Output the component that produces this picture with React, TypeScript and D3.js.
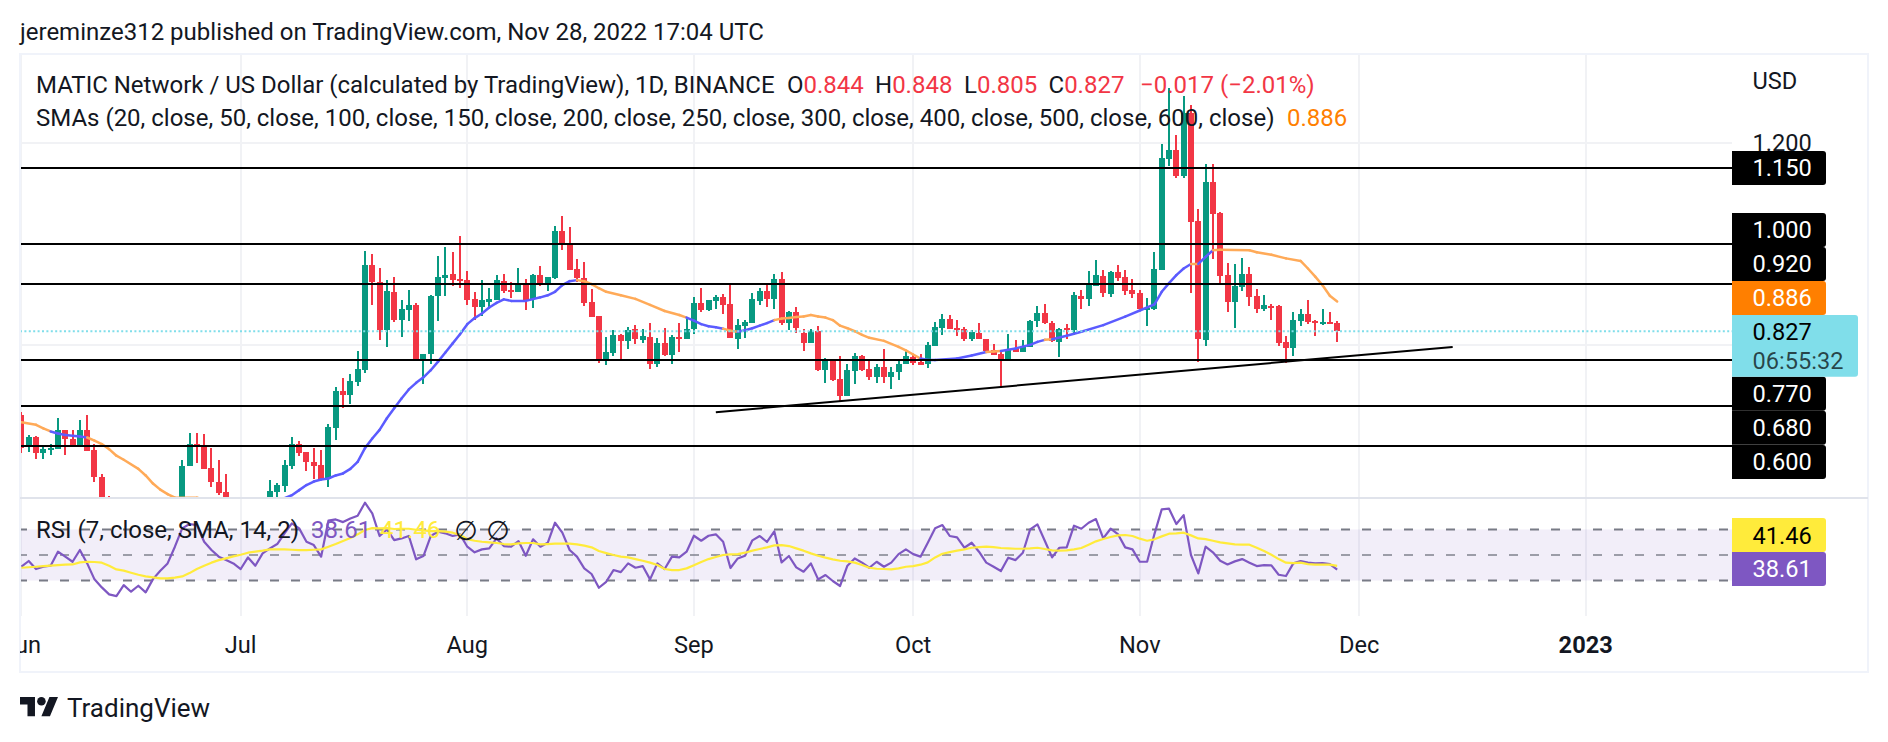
import React, { useEffect, useRef } from "react";
import * as d3 from "d3";

// daily candles, index 0 = Jun 1 2022 (parts under the pane bottom are clipped, rough values there)
const opens = [
  0.661, 0.598, 0.617, 0.587, 0.594, 0.595, 0.632, 0.615, 0.602, 0.632,
  0.592, 0.538, 0.47, 0.44, 0.4, 0.42, 0.46, 0.39, 0.39, 0.33,
  0.38, 0.39, 0.47, 0.561, 0.605, 0.6, 0.557, 0.53, 0.509, 0.48,
  0.45, 0.46, 0.47, 0.46, 0.48, 0.51, 0.521, 0.561, 0.604, 0.588,
  0.569, 0.563, 0.534, 0.636, 0.708, 0.701, 0.727, 0.75, 0.958, 0.924,
  0.829, 0.905, 0.849, 0.869, 0.879, 0.768, 0.782, 0.897, 0.933, 0.94,
  0.93, 0.928, 0.891, 0.875, 0.885, 0.889, 0.926, 0.909, 0.905, 0.922,
  0.89, 0.938, 0.92, 0.932, 1.025, 1.001, 0.95, 0.933, 0.885, 0.857,
  0.768, 0.784, 0.82, 0.808, 0.831, 0.81, 0.816, 0.762, 0.804, 0.78,
  0.816, 0.812, 0.831, 0.883, 0.869, 0.887, 0.895, 0.881, 0.812, 0.837,
  0.843, 0.887, 0.907, 0.891, 0.93, 0.843, 0.865, 0.824, 0.804, 0.827,
  0.75, 0.768, 0.733, 0.699, 0.748, 0.778, 0.752, 0.737, 0.756, 0.737,
  0.746, 0.762, 0.776, 0.766, 0.762, 0.798, 0.833, 0.851, 0.833, 0.831,
  0.812, 0.823, 0.812, 0.79, 0.782, 0.772, 0.794, 0.786, 0.796, 0.847,
  0.863, 0.843, 0.806, 0.833, 0.829, 0.897, 0.891, 0.916, 0.936, 0.901,
  0.944, 0.934, 0.908, 0.903, 0.871, 0.871, 0.948, 1.167, 1.185, 1.134,
  1.258, 1.045, 0.81, 1.122, 1.06, 0.938, 0.885, 0.914, 0.94, 0.897,
  0.87, 0.877, 0.876, 0.806, 0.793, 0.847, 0.861, 0.847, 0.841, 0.845,
  0.844,
];
const closes = [
  0.596, 0.617, 0.587, 0.594, 0.597, 0.632, 0.615, 0.602, 0.632, 0.591,
  0.538, 0.47, 0.44, 0.4, 0.42, 0.46, 0.39, 0.39, 0.33, 0.38,
  0.39, 0.47, 0.561, 0.605, 0.599, 0.555, 0.529, 0.507, 0.48, 0.45,
  0.46, 0.47, 0.46, 0.48, 0.511, 0.523, 0.563, 0.604, 0.587, 0.569,
  0.561, 0.534, 0.638, 0.708, 0.701, 0.729, 0.752, 0.958, 0.925, 0.829,
  0.906, 0.849, 0.871, 0.879, 0.768, 0.783, 0.897, 0.934, 0.938, 0.928,
  0.926, 0.889, 0.875, 0.889, 0.891, 0.928, 0.907, 0.905, 0.922, 0.889,
  0.938, 0.92, 0.934, 1.025, 0.999, 0.949, 0.932, 0.883, 0.856, 0.768,
  0.786, 0.82, 0.808, 0.83, 0.812, 0.818, 0.762, 0.804, 0.78, 0.816,
  0.812, 0.831, 0.883, 0.869, 0.889, 0.895, 0.879, 0.814, 0.839, 0.845,
  0.891, 0.907, 0.891, 0.93, 0.843, 0.865, 0.833, 0.804, 0.827, 0.75,
  0.768, 0.731, 0.699, 0.75, 0.778, 0.75, 0.737, 0.756, 0.737, 0.746,
  0.762, 0.778, 0.764, 0.76, 0.8, 0.835, 0.851, 0.831, 0.829, 0.812,
  0.825, 0.812, 0.788, 0.78, 0.772, 0.792, 0.786, 0.798, 0.847, 0.863,
  0.843, 0.808, 0.831, 0.829, 0.899, 0.891, 0.918, 0.938, 0.902, 0.944,
  0.932, 0.907, 0.901, 0.871, 0.873, 0.95, 1.169, 1.185, 1.134, 1.258,
  1.042, 0.812, 1.122, 1.059, 0.936, 0.885, 0.916, 0.94, 0.895, 0.871,
  0.879, 0.874, 0.803, 0.793, 0.849, 0.861, 0.845, 0.843, 0.845, 0.841,
  0.827,
];
const highs = [
  0.668, 0.622, 0.62, 0.6, 0.604, 0.655, 0.632, 0.632, 0.652, 0.661,
  0.604, 0.545, 0.501, 0.45, 0.44, 0.47, 0.47, 0.41, 0.4, 0.39,
  0.42, 0.49, 0.573, 0.625, 0.625, 0.624, 0.596, 0.573, 0.544, 0.49,
  0.49, 0.49, 0.485, 0.49, 0.533, 0.528, 0.573, 0.617, 0.61, 0.588,
  0.596, 0.592, 0.644, 0.716, 0.734, 0.742, 0.788, 0.986, 0.98, 0.952,
  0.928, 0.934, 0.889, 0.909, 0.883, 0.783, 0.899, 0.976, 0.993, 0.984,
  1.015, 0.946, 0.905, 0.928, 0.912, 0.938, 0.94, 0.924, 0.951, 0.93,
  0.94, 0.956, 0.934, 1.035, 1.055, 1.033, 0.97, 0.964, 0.91, 0.857,
  0.816, 0.829, 0.822, 0.836, 0.839, 0.831, 0.843, 0.814, 0.833, 0.82,
  0.843, 0.854, 0.895, 0.912, 0.889, 0.899, 0.901, 0.922, 0.851, 0.849,
  0.903, 0.912, 0.918, 0.94, 0.944, 0.867, 0.875, 0.831, 0.831, 0.837,
  0.774, 0.768, 0.778, 0.762, 0.784, 0.78, 0.768, 0.762, 0.792, 0.756,
  0.768, 0.79, 0.78, 0.782, 0.806, 0.845, 0.861, 0.859, 0.849, 0.835,
  0.829, 0.843, 0.812, 0.802, 0.788, 0.822, 0.81, 0.81, 0.849, 0.877,
  0.881, 0.847, 0.833, 0.841, 0.905, 0.908, 0.946, 0.968, 0.948, 0.946,
  0.958, 0.948, 0.93, 0.908, 0.893, 0.984, 1.198, 1.307, 1.215, 1.292,
  1.274, 1.069, 1.157, 1.157, 1.062, 0.961, 0.96, 0.972, 0.954, 0.91,
  0.899, 0.881, 0.879, 0.818, 0.865, 0.871, 0.889, 0.849, 0.871, 0.865,
  0.848,
];
const lows = [
  0.587, 0.589, 0.575, 0.575, 0.582, 0.594, 0.582, 0.6, 0.6, 0.591,
  0.53, 0.45, 0.43, 0.37, 0.38, 0.37, 0.38, 0.37, 0.32, 0.32,
  0.37, 0.38, 0.46, 0.561, 0.567, 0.555, 0.52, 0.503, 0.47, 0.43,
  0.43, 0.45, 0.44, 0.45, 0.47, 0.498, 0.51, 0.555, 0.58, 0.551,
  0.534, 0.534, 0.52, 0.612, 0.676, 0.683, 0.719, 0.745, 0.879, 0.81,
  0.796, 0.846, 0.816, 0.847, 0.768, 0.723, 0.762, 0.847, 0.897, 0.916,
  0.912, 0.879, 0.849, 0.857, 0.874, 0.889, 0.903, 0.893, 0.905, 0.869,
  0.872, 0.917, 0.907, 0.93, 0.988, 0.948, 0.925, 0.877, 0.856, 0.764,
  0.76, 0.779, 0.768, 0.792, 0.802, 0.804, 0.752, 0.757, 0.778, 0.762,
  0.785, 0.812, 0.822, 0.865, 0.867, 0.871, 0.861, 0.814, 0.792, 0.814,
  0.843, 0.879, 0.875, 0.871, 0.839, 0.829, 0.823, 0.788, 0.804, 0.748,
  0.725, 0.729, 0.689, 0.699, 0.723, 0.748, 0.731, 0.725, 0.725, 0.713,
  0.731, 0.762, 0.76, 0.76, 0.754, 0.798, 0.82, 0.831, 0.818, 0.808,
  0.808, 0.812, 0.786, 0.78, 0.715, 0.772, 0.786, 0.786, 0.796, 0.835,
  0.841, 0.806, 0.776, 0.812, 0.82, 0.871, 0.876, 0.916, 0.895, 0.895,
  0.926, 0.899, 0.893, 0.871, 0.837, 0.869, 0.948, 1.154, 1.13, 1.13,
  0.903, 0.767, 0.798, 0.97, 0.922, 0.865, 0.833, 0.906, 0.877, 0.863,
  0.867, 0.849, 0.798, 0.764, 0.778, 0.837, 0.841, 0.818, 0.839, 0.841,
  0.805,
];

// SMA 20, read at its visible corners
const smaDays = [
  0, 2, 3, 4, 5, 6, 8, 9, 10, 11, 12, 13, 14, 16, 17, 18, 19, 20, 21, 24, 28, 32, 35, 36, 37, 38, 39, 40, 41, 42,
  43, 44, 45, 46, 47, 48, 49, 50, 51, 52, 53, 54, 55, 56, 57, 58, 59, 60, 61, 62, 63, 64, 65, 66, 67, 69, 71, 72, 73, 74,
  75, 76, 77, 78, 79, 80, 82, 84, 86, 88, 90, 91, 92, 93, 94, 95, 96, 97, 98, 99, 100, 101, 102, 103, 104, 105, 106, 107, 108, 109,
  110, 111, 112, 113, 114, 115, 116, 118, 120, 121, 122, 123, 124, 125, 128, 130, 132, 133, 134, 136, 138, 139, 140, 141, 143, 145, 148, 151, 153, 155,
  156, 157, 158, 159, 160, 161, 162, 163, 164, 168, 169, 171, 173, 175, 176, 177, 178, 179, 180,
];
const smaValues = [
  0.647, 0.642, 0.635, 0.629, 0.625, 0.622, 0.619, 0.617, 0.611, 0.604, 0.594, 0.581, 0.573, 0.555, 0.542, 0.526, 0.514, 0.505, 0.498, 0.498, 0.485, 0.47, 0.482, 0.497, 0.503, 0.513, 0.523, 0.53, 0.534, 0.536,
  0.542, 0.546, 0.555, 0.569, 0.596, 0.615, 0.632, 0.655, 0.675, 0.694, 0.712, 0.725, 0.736, 0.75, 0.767, 0.785, 0.803, 0.821, 0.841, 0.853, 0.862, 0.874, 0.883, 0.89, 0.887, 0.887, 0.894, 0.898, 0.905, 0.918,
  0.926, 0.928, 0.926, 0.92, 0.912, 0.905, 0.898, 0.891, 0.879, 0.867, 0.859, 0.854, 0.848, 0.841, 0.837, 0.835, 0.832, 0.828, 0.826, 0.829, 0.833, 0.838, 0.843, 0.849, 0.852, 0.853, 0.855, 0.856, 0.859, 0.856,
  0.854, 0.849, 0.838, 0.833, 0.827, 0.82, 0.814, 0.808, 0.796, 0.789, 0.781, 0.773, 0.77, 0.77, 0.773, 0.779, 0.786, 0.787, 0.788, 0.793, 0.8, 0.806, 0.81, 0.811, 0.818, 0.826, 0.839, 0.856, 0.868, 0.88,
  0.905, 0.922, 0.938, 0.951, 0.96, 0.96, 0.974, 0.987, 0.988, 0.987, 0.983, 0.978, 0.971, 0.966, 0.951, 0.935, 0.918, 0.897, 0.886,
];
// day ranges where the SMA is drawn blue instead of orange
const smaBlueRanges = [[4, 9], [22, 24], [35, 76], [91, 96], [98, 103], [123, 132], [134, 140], [141, 160], [161, 163]];

const rsiValues = [
  40.8, 45.3, 39.0, 40.8, 41.6, 52.6, 48.7, 44.7, 53.9, 43.4,
  30.9, 24.6, 19.1, 17.8, 26.4, 21.2, 25.9, 20.7, 31.1, 37.7,
  43.4, 56.5, 70.9, 74.3, 73.5, 60.4, 53.9, 48.7, 46.0, 43.4,
  39.0, 48.1, 41.6, 51.3, 55.2, 58.6, 67.0, 74.8, 70.9, 60.4,
  57.8, 48.7, 76.9, 77.9, 75.8, 78.7, 80.8, 91.0, 82.6, 64.9,
  70.1, 61.7, 63.0, 64.9, 46.6, 49.2, 64.9, 68.3, 67.0, 64.9,
  66.2, 56.5, 52.1, 54.4, 55.2, 63.0, 57.0, 56.5, 60.9, 49.4,
  62.3, 56.5, 59.6, 75.3, 67.5, 53.9, 48.7, 39.5, 35.1, 24.3,
  29.0, 38.2, 36.6, 43.4, 40.0, 41.3, 30.9, 43.4, 39.0, 48.7,
  48.1, 52.6, 65.1, 61.2, 65.1, 66.2, 60.4, 39.8, 47.3, 49.4,
  61.5, 64.9, 60.2, 68.5, 44.2, 49.2, 40.3, 36.9, 43.4, 30.9,
  34.3, 29.6, 25.7, 41.6, 47.3, 44.0, 40.0, 44.7, 40.8, 44.0,
  50.7, 54.4, 50.7, 48.7, 59.6, 70.9, 73.5, 64.9, 63.8, 55.7,
  59.6, 52.6, 44.0, 40.8, 37.4, 47.9, 46.0, 51.8, 70.1, 74.0,
  61.2, 48.1, 55.7, 56.0, 73.0, 70.6, 75.3, 78.2, 63.0, 70.6,
  66.4, 56.0, 54.4, 44.7, 44.7, 66.4, 85.8, 86.3, 74.3, 81.3,
  50.0, 35.6, 56.5, 52.1, 45.5, 42.6, 45.0, 46.8, 44.0, 41.3,
  42.1, 41.9, 34.5, 33.5, 43.4, 45.3, 44.0, 43.4, 43.7, 42.9,
  38.61,
];
const rsiSmaValues = [
  40.0, 40.4, 40.8, 41.2, 41.6, 42.0, 42.4, 42.6, 44.2, 44.7,
  44.5, 44.0, 41.6, 38.7, 37.7, 36.1, 34.5, 33.2, 32.5, 31.7,
  31.7, 32.2, 33.2, 35.8, 39.0, 41.6, 44.0, 46.0, 47.4, 48.9,
  50.2, 51.8, 52.6, 53.4, 54.4, 54.4, 54.4, 54.1, 53.9, 53.9,
  54.1, 54.4, 56.5, 58.6, 60.9, 63.3, 66.2, 69.6, 71.1, 70.9,
  71.1, 70.4, 70.6, 70.6, 69.8, 69.3, 68.8, 68.8, 68.3, 67.5,
  65.7, 62.5, 61.2, 60.4, 59.9, 59.4, 58.6, 58.3, 59.1, 59.4,
  59.4, 58.3, 58.6, 58.9, 58.9, 58.9, 58.3, 57.3, 56.0, 53.1,
  51.5, 50.0, 48.7, 48.1, 46.8, 45.5, 44.0, 42.1, 39.0, 38.2,
  38.2, 39.5, 41.9, 44.5, 46.8, 48.4, 50.0, 50.5, 50.7, 51.8,
  53.4, 54.7, 56.0, 57.5, 57.8, 57.0, 55.2, 53.4, 51.3, 49.4,
  47.9, 46.6, 45.5, 45.0, 44.0, 42.1, 40.0, 39.2, 39.0, 38.7,
  39.5, 40.8, 41.3, 42.4, 44.2, 48.1, 51.0, 52.3, 53.4, 54.4,
  55.7, 56.2, 56.5, 56.2, 55.5, 55.2, 54.9, 54.9, 55.2, 55.7,
  54.7, 53.6, 53.4, 53.6, 54.4, 55.5, 58.1, 60.7, 62.5, 64.1,
  65.4, 65.7, 64.9, 62.8, 61.2, 62.3, 64.6, 66.7, 67.0, 67.5,
  65.4, 63.0, 62.5, 61.2, 59.9, 59.1, 58.3, 58.1, 58.1, 55.7,
  53.1, 50.2, 46.8, 44.0, 43.7, 44.0, 42.9, 42.4, 42.4, 42.4,
  41.46,
];

const levelPrices = [1.15, 1.0, 0.92, 0.77, 0.68, 0.6];
const levelLabels = ["1.150", "1.000", "0.920", "0.770", "0.680", "0.600"];
const gridPrices = [1.2, 0.8];
const rsiBands = [70, 50, 30];
const trendDays = [95, 195.8];
const trendPrices = [0.667, 0.796];
const monthDays = [0, 30, 61, 92, 122, 153, 183, 214];
const monthLabels = ["Jun", "Jul", "Aug", "Sep", "Oct", "Nov", "Dec", "2023"];

const INK = "#131722";
const UP = "#089981";
const DOWN = "#f23645";
const FONT = "Roboto, sans-serif";
const LEGEND_SIZE = 24;
const LABEL_SIZE = 23.6;

const App: React.FC = () => {
  const svgRef = useRef<SVGSVGElement | null>(null);

  useEffect(() => {
    if (!svgRef.current) return;
    const svg = d3.select(svgRef.current);
    svg.selectAll("*").remove();

    const left = 20, right = 1868, axisLeft = 1732, top = 54, paneBottom = 498, rsiBottom = 616, bottom = 672;

    const x = d3.scaleLinear().domain([0, 214]).range([21.4, 1585.7]);
    const y = d3.scaleLinear().domain([1.2, 0.6]).range([142.5, 446.1]);
    const yRsi = d3.scaleLinear().domain([70, 30]).range([529.5, 580.5]);

    const defs = svg.append("defs");
    defs.append("clipPath").attr("id", "main-clip")
      .append("rect").attr("x", left).attr("y", top).attr("width", axisLeft - left).attr("height", paneBottom - top);
    defs.append("clipPath").attr("id", "rsi-clip")
      .append("rect").attr("x", left).attr("y", paneBottom).attr("width", axisLeft - left).attr("height", rsiBottom - paneBottom);
    defs.append("clipPath").attr("id", "time-clip")
      .append("rect").attr("x", left).attr("y", rsiBottom).attr("width", right - left).attr("height", bottom - rsiBottom);

    svg.append("rect").attr("width", 1888).attr("height", 742).attr("fill", "#fff");

    // grid
    const grid = svg.append("g").attr("stroke", "#f1f2f5").attr("stroke-width", 2).attr("shape-rendering", "crispEdges");
    monthDays.forEach((d) => {
      grid.append("line").attr("x1", x(d)).attr("x2", x(d)).attr("y1", top).attr("y2", rsiBottom);
    });
    gridPrices.forEach((p) => {
      grid.append("line").attr("x1", left).attr("x2", axisLeft).attr("y1", y(p)).attr("y2", y(p));
    });

    // main pane
    const main = svg.append("g").attr("clip-path", "url(#main-clip)");

    opens.forEach((o, i) => {
      const c = closes[i];
      const color = c >= o ? UP : DOWN;
      main.append("line")
        .attr("x1", x(i)).attr("x2", x(i))
        .attr("y1", y(highs[i])).attr("y2", y(lows[i]))
        .attr("stroke", color).attr("stroke-width", 2)
        .attr("shape-rendering", "crispEdges");
      const bodyTop = y(Math.max(o, c));
      main.append("rect")
        .attr("x", x(i) - 3).attr("y", bodyTop)
        .attr("width", 6).attr("height", Math.max(2, y(Math.min(o, c)) - bodyTop))
        .attr("fill", color)
        .attr("shape-rendering", "crispEdges");
    });

    smaDays.slice(1).forEach((d, k) => {
      const from = smaDays[k];
      const blue = smaBlueRanges.some(([a, b]) => from >= a && from < b);
      main.append("line")
        .attr("x1", x(from)).attr("y1", y(smaValues[k]))
        .attr("x2", x(d)).attr("y2", y(smaValues[k + 1]))
        .attr("stroke", blue ? "#5b5bff" : "#ffaa58")
        .attr("stroke-width", 2.5)
        .attr("stroke-linecap", "round");
    });

    main.append("line")
      .attr("x1", left).attr("x2", axisLeft)
      .attr("y1", y(closes[closes.length - 1])).attr("y2", y(closes[closes.length - 1]))
      .attr("stroke", "#80deea").attr("stroke-width", 2).attr("stroke-dasharray", "2 2.4");

    levelPrices.forEach((p) => {
      main.append("line")
        .attr("x1", left).attr("x2", axisLeft).attr("y1", y(p)).attr("y2", y(p))
        .attr("stroke", "#000").attr("stroke-width", 2)
        .attr("shape-rendering", "crispEdges");
    });
    main.append("line")
      .attr("x1", x(trendDays[0])).attr("y1", y(trendPrices[0]))
      .attr("x2", x(trendDays[1])).attr("y2", y(trendPrices[1]))
      .attr("stroke", "#000").attr("stroke-width", 2);

    // rsi pane
    const rsi = svg.append("g").attr("clip-path", "url(#rsi-clip)");
    rsi.append("rect")
      .attr("x", left).attr("width", axisLeft - left)
      .attr("y", yRsi(70)).attr("height", yRsi(30) - yRsi(70))
      .attr("fill", "#7e57c2").attr("fill-opacity", 0.1);
    rsiBands.forEach((v, i) => {
      rsi.append("line")
        .attr("x1", left).attr("x2", axisLeft).attr("y1", yRsi(v)).attr("y2", yRsi(v))
        .attr("stroke", "#787b86").attr("stroke-width", 2)
        .attr("stroke-opacity", i === 1 ? 0.7 : 1)
        .attr("stroke-dasharray", "9 12").attr("stroke-dashoffset", 2);
    });
    const rsiLine = d3.line<number>().x((_, i) => x(i)).y((v) => yRsi(v));
    rsi.append("path").attr("d", rsiLine(rsiValues)).attr("fill", "none")
      .attr("stroke", "#7e57c2").attr("stroke-width", 2.2).attr("stroke-linejoin", "round");
    rsi.append("path").attr("d", rsiLine(rsiSmaValues)).attr("fill", "none")
      .attr("stroke", "#ffeb3b").attr("stroke-width", 2.2).attr("stroke-linejoin", "round");

    // frame
    const frame = svg.append("g").attr("fill", "none");
    frame.append("rect").attr("x", left).attr("y", top).attr("width", right - left).attr("height", bottom - top)
      .attr("stroke", "#f0f3fa").attr("stroke-width", 2);
    frame.append("line").attr("x1", left).attr("x2", right).attr("y1", paneBottom).attr("y2", paneBottom)
      .attr("stroke", "#e0e3eb").attr("stroke-width", 2);

    // all text helper
    const addText = (px: number, py: number, text: string, fill = INK, size = LEGEND_SIZE, parent: any = svg) =>
      parent.append("text")
        .attr("x", px).attr("y", py)
        .attr("dominant-baseline", "central")
        .attr("font-family", FONT).attr("font-size", size)
        .attr("fill", fill)
        .text(text);

    // time axis
    const timeAxis = svg.append("g").attr("clip-path", "url(#time-clip)");
    monthDays.forEach((d, i) => {
      addText(x(d), 645, monthLabels[i], INK, LABEL_SIZE, timeAxis)
        .attr("text-anchor", "middle")
        .attr("font-weight", monthLabels[i] === "2023" ? 700 : 400);
    });

    // header + legends
    addText(20, 32, "jereminze312 published on TradingView.com, Nov 28, 2022 17:04 UTC");
    addText(36, 85, "MATIC Network / US Dollar (calculated by TradingView), 1D, BINANCE");
    const ohlc: [string, number, string][] = [
      ["O", 787, "0.844"], ["H", 875, "0.848"], ["L", 964, "0.805"], ["C", 1048.5, "0.827"],
    ];
    ohlc.forEach(([k, px, v]) => {
      const t = addText(px, 85, k);
      t.append("tspan").attr("fill", DOWN).text(v);
    });
    addText(1140, 85, "−0.017 (−2.01%)", DOWN);
    addText(36, 118, "SMAs (20, close, 50, close, 100, close, 150, close, 200, close, 250, close, 300, close, 400, close, 500, close, 600, close)");
    addText(1287, 118, "0.886", "#ff7f00");
    addText(36, 530, "RSI (7, close, SMA, 14, 2)");
    addText(311, 530, "38.61", "#7e57c2");
    addText(380, 530, "41.46", "#ffeb3b");
    [466, 498].forEach((px) => {
      addText(px, 530, "∅", INK, 27).attr("text-anchor", "middle").attr("font-family", "DejaVu Sans");
    });

    // price scale
    const labelX = 1752.5;
    addText(labelX, 81, "USD", INK, LABEL_SIZE);
    addText(labelX, 142.5, "1.200", INK, LABEL_SIZE);
    const tag = (y0: number, y1: number, w: number, fill: string) => {
      const r = 3;
      const x0 = axisLeft, x1 = axisLeft + w;
      svg.append("path")
        .attr("d", `M${x0},${y0}H${x1 - r}Q${x1},${y0} ${x1},${y0 + r}V${y1 - r}Q${x1},${y1} ${x1 - r},${y1}H${x0}Z`)
        .attr("fill", fill);
    };
    const levelTagTops = [151, 213, 247, 376.7, 410.7, 445];
    levelLabels.forEach((label, i) => {
      tag(levelTagTops[i], levelTagTops[i] + 34, 94, "#000");
      addText(labelX, levelTagTops[i] + 17.3, label, "#fff", LABEL_SIZE);
    });
    tag(281, 315, 94, "#ff7f00");
    addText(labelX, 298, "0.886", "#fff", LABEL_SIZE);
    tag(315, 376.7, 126, "#80deea");
    addText(labelX, 332, "0.827", "#000", LABEL_SIZE);
    addText(labelX, 360.7, "06:55:32", "#000", LABEL_SIZE).attr("fill-opacity", 0.7);
    tag(518, 552, 94, "#ffeb3b");
    addText(labelX, 535.5, "41.46", "#000", LABEL_SIZE);
    tag(552, 586, 94, "#7e57c2");
    addText(labelX, 569.3, "38.61", "#fff", LABEL_SIZE);

    // footer logo + name
    const logo = svg.append("g").attr("transform", "translate(20,692.7) scale(1.07)").attr("fill", INK);
    logo.append("path").attr("d", "M14 22H7V11H0V4h14v18zM28 22h-8l7.5-18h8L28 22z");
    logo.append("circle").attr("cx", 20).attr("cy", 8).attr("r", 4);
    addText(67, 708, "TradingView", INK, 26);
  }, []);

  return <svg ref={svgRef} width={1888} height={742} style={{ position: "absolute", left: 0, top: 0, display: "block" }} />;
};

export default App;
